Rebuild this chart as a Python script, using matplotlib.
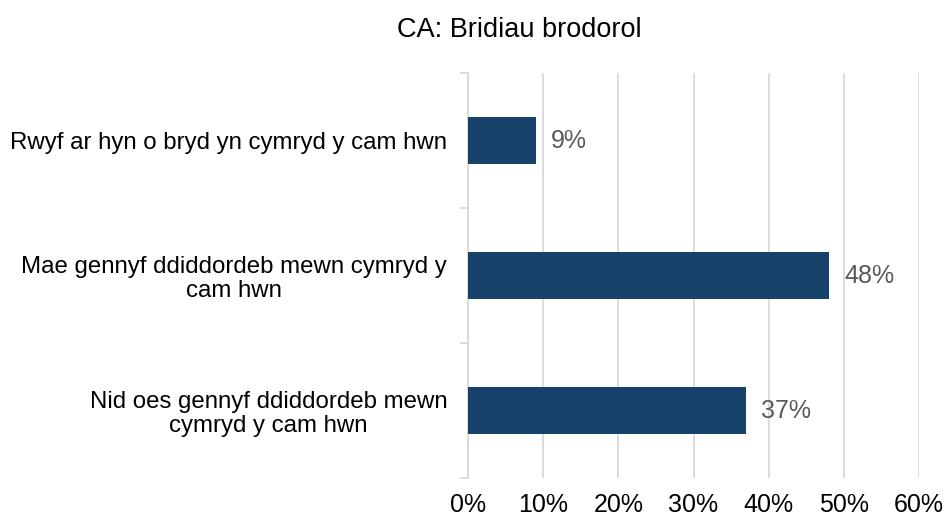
import matplotlib.pyplot as plt
from matplotlib.ticker import FuncFormatter, MultipleLocator

plt.rcParams["font.family"] = ["Liberation Sans", "DejaVu Sans"]

categories = [
    "Rwyf ar hyn o bryd yn cymryd y cam hwn",
    "Mae gennyf ddiddordeb mewn cymryd y\ncam hwn",
    "Nid oes gennyf ddiddordeb mewn\ncymryd y cam hwn",
]
values = [9, 48, 37]
title = "CA: Bridiau brodorol"

bar_color = "#17426B"
grid_color = "#D9D9D9"

fig = plt.figure(figsize=(9.44, 5.21), dpi=100)
ax = fig.add_axes([468 / 944, 1 - 478 / 521, 451 / 944, 405 / 521])

ypos = list(range(len(categories)))
ax.barh(ypos, values, height=0.355, color=bar_color, zorder=3)

for y, v in zip(ypos, values):
    ax.annotate(f"{v}%", xy=(v, y), xytext=(11, 0), textcoords="offset points",
                va="center", ha="left", fontsize=18, color="#595959")

ax.set_xlim(0, 60)
ax.set_ylim(len(categories) - 0.5, -0.5)
ax.xaxis.set_major_locator(MultipleLocator(10))
ax.xaxis.set_major_formatter(FuncFormatter(lambda x, _: f"{x:.0f}%"))
ax.tick_params(axis="x", length=0, pad=11, labelsize=18, labelcolor="black")
ax.grid(axis="x", color=grid_color, linewidth=1.3, zorder=0)

ax.set_yticks(ypos)
ax.set_yticklabels(categories, fontsize=17.3, linespacing=1.1)
ax.set_yticks([y - 0.5 for y in range(len(categories) + 1)], minor=True)
ax.tick_params(axis="y", which="major", length=0, pad=15)
ax.tick_params(axis="y", which="minor", length=6, color=grid_color, width=1.3)
for lbl in ax.get_yticklabels():
    lbl.set_multialignment("center")

for side in ["top", "right", "bottom"]:
    ax.spines[side].set_visible(False)
ax.spines["left"].set_color(grid_color)
ax.spines["left"].set_linewidth(1.3)

fig.text(519 / 944, 1 - 30 / 521, title, ha="center", va="center", fontsize=19.5)

fig.savefig("out.png", dpi=100)
